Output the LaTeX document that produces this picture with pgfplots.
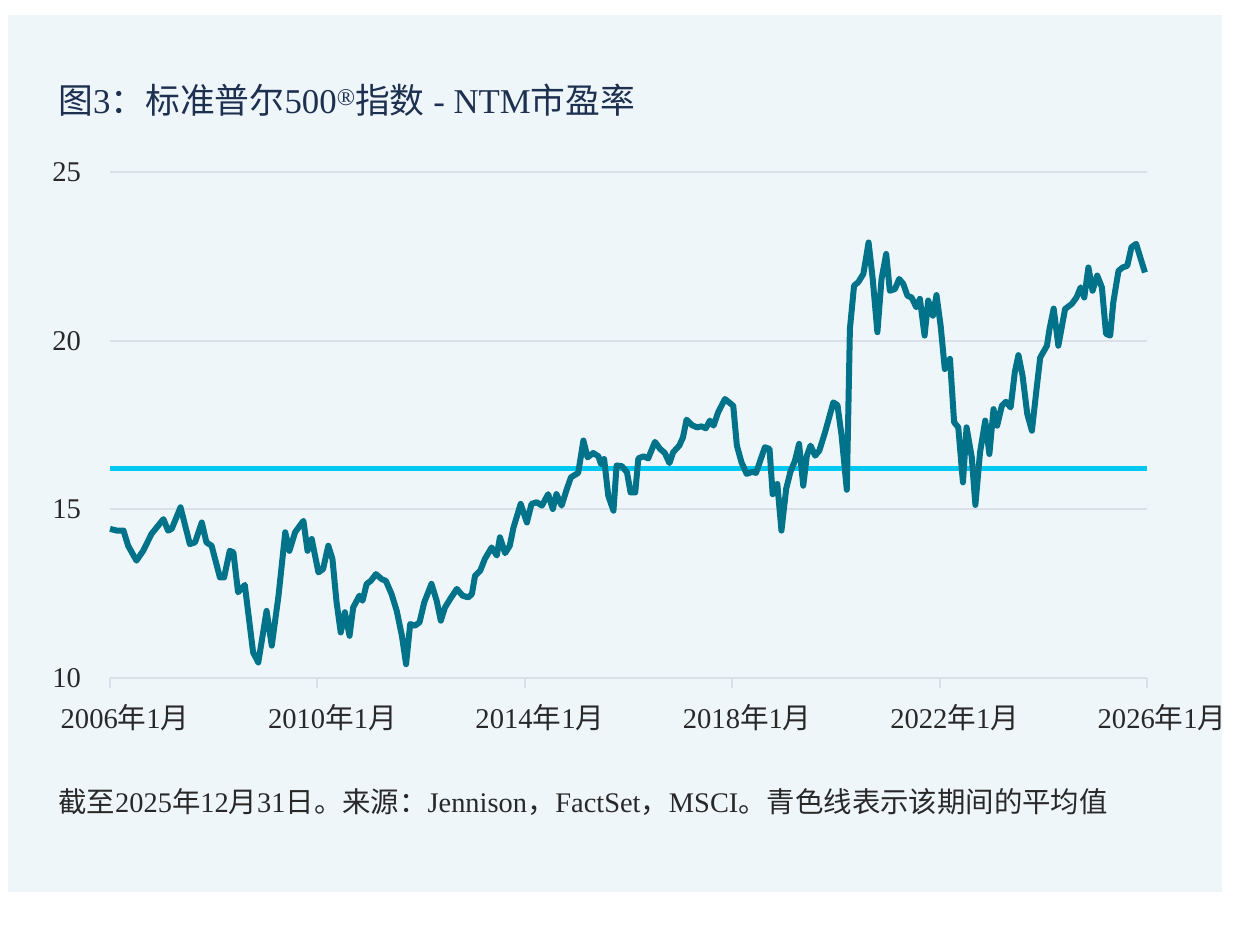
\documentclass[border=0pt]{standalone}
\usepackage{pgfplots}
\pgfplotsset{compat=1.18}
\usepackage{pgfplotstable}
\usepackage{fontspec}
\setmainfont{Liberation Serif}
\newfontfamily\cjk{Noto Sans CJK SC}
\definecolor{panel}{RGB}{239,246,250}
\definecolor{teal}{RGB}{0,115,138}
\definecolor{cyanline}{RGB}{0,200,240}
\definecolor{gridc}{RGB}{218,224,231}
\definecolor{navy}{RGB}{30,48,80}
\definecolor{ticktext}{RGB}{40,40,40}
\pgfplotstableread{
x y
2006.00 14.42
2006.13 14.37
2006.26 14.37
2006.35 13.92
2006.51 13.48
2006.64 13.77
2006.80 14.27
2007.03 14.71
2007.12 14.37
2007.19 14.42
2007.36 15.06
2007.54 13.97
2007.64 14.02
2007.77 14.61
2007.86 14.02
2007.96 13.92
2008.12 12.98
2008.20 12.98
2008.31 13.77
2008.38 13.72
2008.47 12.54
2008.60 12.76
2008.76 10.76
2008.86 10.46
2009.02 11.99
2009.12 10.96
2009.25 12.44
2009.38 14.32
2009.46 13.77
2009.57 14.32
2009.73 14.66
2009.81 13.77
2009.89 14.12
2010.02 13.13
2010.11 13.23
2010.21 13.92
2010.29 13.53
2010.37 12.24
2010.45 11.35
2010.53 11.95
2010.62 11.25
2010.69 12.09
2010.81 12.44
2010.87 12.29
2010.95 12.79
2011.03 12.88
2011.13 13.08
2011.24 12.93
2011.32 12.88
2011.43 12.49
2011.53 11.99
2011.63 11.25
2011.71 10.41
2011.79 11.60
2011.88 11.55
2011.97 11.65
2012.06 12.24
2012.20 12.79
2012.30 12.29
2012.38 11.70
2012.46 12.09
2012.56 12.34
2012.69 12.64
2012.80 12.44
2012.91 12.39
2012.98 12.49
2013.04 13.03
2013.14 13.18
2013.23 13.53
2013.36 13.87
2013.46 13.63
2013.52 14.17
2013.62 13.70
2013.71 13.92
2013.78 14.45
2013.92 15.16
2014.04 14.61
2014.13 15.16
2014.23 15.21
2014.33 15.11
2014.45 15.45
2014.54 15.01
2014.61 15.45
2014.71 15.11
2014.81 15.60
2014.89 15.95
2015.03 16.08
2015.13 17.04
2015.21 16.54
2015.32 16.67
2015.42 16.57
2015.47 16.34
2015.53 16.49
2015.61 15.40
2015.71 14.96
2015.77 16.30
2015.87 16.28
2015.97 16.10
2016.04 15.50
2016.13 15.50
2016.19 16.51
2016.29 16.57
2016.38 16.51
2016.51 17.00
2016.61 16.79
2016.70 16.67
2016.79 16.37
2016.86 16.69
2016.98 16.89
2017.05 17.13
2017.12 17.66
2017.22 17.50
2017.32 17.43
2017.41 17.46
2017.49 17.40
2017.57 17.63
2017.64 17.48
2017.73 17.88
2017.86 18.27
2018.02 18.07
2018.09 16.89
2018.18 16.39
2018.28 16.05
2018.38 16.11
2018.46 16.08
2018.54 16.44
2018.63 16.84
2018.72 16.79
2018.78 15.45
2018.87 15.75
2018.95 14.37
2019.04 15.60
2019.12 16.10
2019.21 16.44
2019.29 16.94
2019.37 15.70
2019.44 16.59
2019.51 16.89
2019.60 16.59
2019.68 16.74
2019.79 17.28
2019.95 18.17
2020.03 18.09
2020.11 17.18
2020.21 15.58
2020.27 20.35
2020.35 21.63
2020.43 21.73
2020.53 21.98
2020.63 22.91
2020.71 21.83
2020.80 20.25
2020.88 21.83
2020.97 22.57
2021.04 21.48
2021.14 21.53
2021.22 21.83
2021.30 21.68
2021.38 21.33
2021.46 21.28
2021.55 20.99
2021.62 21.24
2021.71 20.15
2021.78 21.19
2021.87 20.74
2021.94 21.35
2022.02 20.44
2022.10 19.16
2022.20 19.46
2022.28 17.58
2022.36 17.43
2022.45 15.80
2022.52 17.43
2022.62 16.55
2022.69 15.13
2022.78 16.69
2022.88 17.63
2022.96 16.64
2023.04 17.97
2023.11 17.48
2023.20 18.07
2023.28 18.19
2023.37 18.02
2023.45 19.06
2023.52 19.57
2023.60 18.96
2023.69 17.83
2023.78 17.33
2023.87 18.57
2023.94 19.50
2024.07 19.85
2024.12 20.35
2024.20 20.95
2024.29 19.85
2024.42 20.94
2024.55 21.09
2024.64 21.28
2024.72 21.58
2024.79 21.28
2024.87 22.17
2024.95 21.48
2025.04 21.93
2025.13 21.58
2025.21 20.20
2025.29 20.15
2025.35 21.14
2025.45 22.07
2025.53 22.17
2025.62 22.22
2025.70 22.77
2025.79 22.87
2025.87 22.47
2025.96 22.02
}\pedata
\begin{document}
\begin{tikzpicture}[x=1pt,y=1pt]
\fill[white] (0,0) rectangle (626.5,468.5);
\fill[panel] (4,22.5) rectangle (611,461);
\begin{axis}[
  at={(55pt,129.5pt)}, anchor=south west,
  scale only axis, width=518.5pt, height=253pt,
  xmin=2006, xmax=2026, ymin=10, ymax=25,
  axis x line*=bottom, axis y line*=left,
  x axis line style={gridc, line width=1pt},
  y axis line style={draw=none},
  xtick={2006,2010,2014,2018,2022,2026},
  xticklabels={2006{\cjk 年}1{\cjk 月},2010{\cjk 年}1{\cjk 月},2014{\cjk 年}1{\cjk 月},2018{\cjk 年}1{\cjk 月},2022{\cjk 年}1{\cjk 月},2026{\cjk 年}1{\cjk 月}},
  ytick={10,15,20,25},
  yticklabels={10,15,20,25},
  ymajorgrids, grid style={gridc, line width=1pt},
  tick align=outside,
  major tick length=5pt,
  xtick style={gridc, line width=1pt},
  ytick style={draw=none},
  tick label style={font=\fontsize{14.3}{17}\selectfont, text=ticktext},
  yticklabel style={xshift=-6pt},
  xticklabel style={yshift=-4.5pt, xshift=7.5pt},
  /pgf/number format/assume math mode=true,
  clip=false,
]
\addplot[cyanline, line width=2.5pt] coordinates {(2006,16.22) (2026,16.22)};
\addplot[teal, line width=3pt, line join=round] table[x=x,y=y] {\pedata};
\end{axis}
\node[anchor=west, text=navy, font=\fontsize{17.4}{20}\selectfont, inner sep=0pt] at (29,418.5)
  {{\cjk 图}3{\cjk ：标准普尔}500\raisebox{0.5ex}{\fontsize{12}{12}\selectfont ®}{\cjk 指数} - NTM{\cjk 市盈率}};
\node[anchor=west, text=ticktext, font=\fontsize{14.2}{17}\selectfont, inner sep=0pt] at (29,67.5)
  {{\cjk 截至}2025{\cjk 年}12{\cjk 月}31{\cjk 日。来源：}Jennison{\cjk ，}FactSet{\cjk ，}MSCI{\cjk 。青色线表示该期间的平均值}};
\end{tikzpicture}
\end{document}
